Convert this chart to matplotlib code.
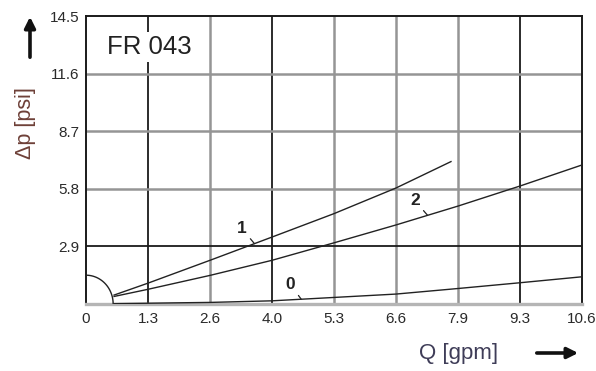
import numpy as np
import matplotlib
matplotlib.use("Agg")
import matplotlib.pyplot as plt
from matplotlib.patches import FancyArrowPatch

plt.rcParams["font.family"] = ["Liberation Sans", "DejaVu Sans"]

# Axis ticks (flow in gpm, pressure drop in psi)
x_ticks = [0, 1.325, 2.65, 3.975, 5.3, 6.625, 7.95, 9.275, 10.6]
x_tick_labels = ["0", "1.3", "2.6", "4.0", "5.3", "6.6", "7.9", "9.3", "10.6"]
y_ticks = [2.9, 5.8, 8.7, 11.6, 14.5]
y_tick_labels = ["2.9", "5.8", "8.7", "11.6", "14.5"]

# Pressure-drop curves
q_curve1 = [0.6, 1.325, 2.65, 3.975, 5.3, 6.625, 7.8]
dp_curve1 = [0.45, 1.05, 2.2, 3.37, 4.55, 5.84, 7.17]

q_curve2 = [0.6, 1.325, 2.65, 3.975, 5.3, 6.625, 7.95, 9.275, 10.6]
dp_curve2 = [0.38, 0.74, 1.44, 2.2, 3.08, 3.98, 4.93, 5.94, 7.0]

q_curve0 = [0.6, 1.325, 2.65, 3.975, 5.3, 6.625, 7.95, 9.275, 10.6]
dp_curve0 = [0.02, 0.04, 0.08, 0.16, 0.33, 0.5, 0.78, 1.07, 1.37]

curve_names = ["1", "2", "0"]

fig = plt.figure(figsize=(5.96, 3.71), dpi=100)
ax = fig.add_axes([86 / 596, 67 / 371, 496 / 596, 288 / 371])
ax.set_xlim(0, 10.6)
ax.set_ylim(0, 14.5)

dark = "#1a1a1a"
grey = "#959595"
dark_x = {1.325, 3.975, 9.275}
dark_y = {2.9, 14.5}

for xv in x_ticks[1:-1]:
    if xv in dark_x:
        ax.axvline(xv, color=dark, lw=1.3, zorder=1)
    else:
        ax.axvline(xv, color=grey, lw=1.8, zorder=1)
for yv in y_ticks[:-1]:
    if yv in dark_y:
        ax.axhline(yv, color=dark, lw=1.3, zorder=1)
    else:
        ax.axhline(yv, color=grey, lw=1.8, zorder=1)

for side in ["left", "top", "right"]:
    ax.spines[side].set_color(dark)
    ax.spines[side].set_linewidth(1.4)
ax.spines["bottom"].set_color("#b5b5b5")
ax.spines["bottom"].set_linewidth(2.4)

ax.set_xticks(x_ticks)
ax.set_xticklabels(x_tick_labels)
ax.set_yticks(y_ticks)
ax.set_yticklabels(y_tick_labels)
ax.tick_params(length=0, labelsize=11, colors="#2a2a2a", pad=6)
ax.tick_params(axis="y", pad=5)

# Curves
lc = "#222222"
ax.plot(q_curve1, dp_curve1, color=lc, lw=1.0, zorder=3)
ax.plot(q_curve2, dp_curve2, color=lc, lw=1.0, zorder=3)
ax.plot(q_curve0, dp_curve0, color=lc, lw=1.0, zorder=3)

# Quarter circle at the origin
t = np.linspace(0, np.pi / 2, 60)
ax.plot(0.58 * np.cos(t), 1.45 * np.sin(t), color=lc, lw=1.0, zorder=3)

# Curve labels with leader lines
label_specs = [
    (curve_names[0], q_curve1, dp_curve1, (3.33, 3.8), 3.6),
    (curve_names[1], q_curve2, dp_curve2, (7.03, 5.2), 7.3),
    (curve_names[2], q_curve0, dp_curve0, (4.36, 1.0), 4.6),
]
for name, qs, dps, txt_xy, q_at in label_specs:
    ax.annotate(name, xy=(q_at, np.interp(q_at, qs, dps)), xytext=txt_xy,
                ha="center", va="center", fontsize=12.5, fontweight="bold",
                color=lc, zorder=4,
                arrowprops=dict(arrowstyle="-", color=lc, lw=0.9,
                                shrinkA=1, shrinkB=0))

# Model designation
ax.text(0.45, 12.95, "FR 043", fontsize=18.5, color="#222222",
        ha="left", va="center", zorder=4,
        bbox=dict(fc="white", ec="none", pad=2))

# Axis titles and direction arrows
fig.text(26 / 596, 1 - 123 / 371, "Δp [psi]", rotation=90, fontsize=15.5,
         color="#6e4038", ha="center", va="center")
fig.text(459 / 596, 1 - 353 / 371, "Q [gpm]", fontsize=16,
         color="#3f3d58", ha="center", va="center")

fig.add_artist(FancyArrowPatch((30 / 596, 1 - 60 / 371), (30 / 596, 1 - 14 / 371),
                               transform=fig.transFigure, arrowstyle="-|>",
                               mutation_scale=16, lw=2.6, color="#111111"))
fig.add_artist(FancyArrowPatch((534 / 596, 1 - 353 / 371), (581 / 596, 1 - 353 / 371),
                               transform=fig.transFigure, arrowstyle="-|>",
                               mutation_scale=16, lw=2.6, color="#111111"))

fig.savefig("out.png", dpi=100)
